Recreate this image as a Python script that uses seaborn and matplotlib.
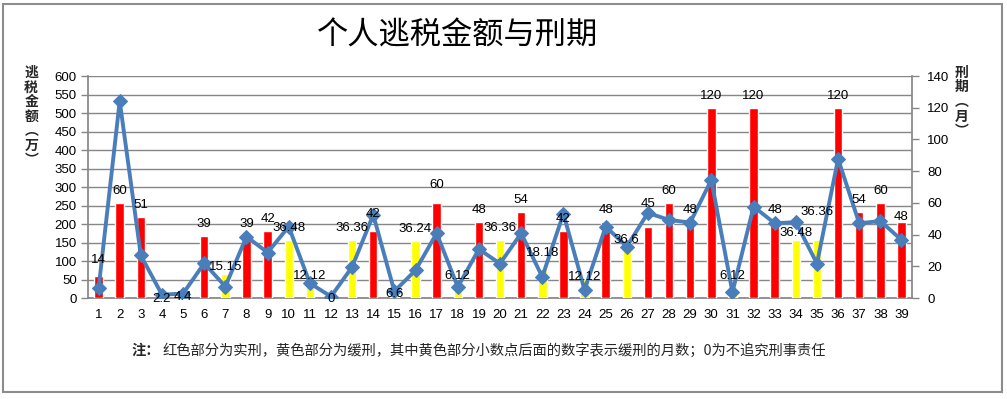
import numpy as np
import pandas as pd
import matplotlib
matplotlib.use('Agg')
import matplotlib.pyplot as plt
from matplotlib.patches import Rectangle
import seaborn as sns

# case number, sentence in months (bar labels), type of sentence, evaded tax (10k yuan)
cases = [str(i) for i in range(1, 40)]
months = [14, 60, 51, 2.2, 4.4, 39, 15.15, 39, 42, 36.48, 12.12, 0, 36.36, 42, 6.6,
          36.24, 60, 6.12, 48, 36.36, 54, 18.18, 42, 12.12, 48, 36.6, 45, 60, 48, 120,
          6.12, 120, 48, 36.48, 36.36, 120, 54, 60, 48]
kinds = ['实刑', '实刑', '实刑', '缓刑', '缓刑', '实刑', '缓刑', '实刑', '实刑', '缓刑',
         '缓刑', '不追究', '缓刑', '实刑', '缓刑', '缓刑', '实刑', '缓刑', '实刑', '缓刑',
         '实刑', '缓刑', '实刑', '缓刑', '实刑', '缓刑', '实刑', '实刑', '实刑', '实刑',
         '缓刑', '实刑', '实刑', '缓刑', '缓刑', '实刑', '实刑', '实刑', '实刑']
amount = [26, 532, 115, 9, 12, 94, 31, 166, 123, 193, 40, 4, 84, 225, 18, 75, 175, 30,
          132, 93, 175, 57, 228, 22, 193, 139, 230, 211, 204, 319, 16, 247, 202, 205, 93,
          376, 202, 208, 157]

left_ticks = list(range(0, 601, 50))
right_ticks = list(range(0, 141, 20))

df = pd.DataFrame({'case': cases, 'months': months, 'kind': kinds, 'amount': amount})
df['pos'] = np.arange(len(df))

sns.set_theme(style='white')
plt.rcParams['font.family'] = ['Liberation Sans', 'Noto Sans CJK SC', 'DejaVu Sans']
cjk = ['Noto Sans CJK SC', 'DejaVu Sans']
grey = '#868686'

fig = plt.figure(figsize=(10.07, 3.99), dpi=100)
ax = fig.add_axes([0.0874, 0.2531, 0.8183, 0.5564])
axb = ax.twinx()
axl = ax.twinx()

# base axes: left scale + gridlines
ax.set_ylim(0, 600)
ax.set_yticks(left_ticks)
ax.yaxis.grid(True, color=grey, linewidth=1)
ax.set_axisbelow(True)

# bars on the right scale
sns.barplot(data=df, x='case', y='months', hue='kind', dodge=False, width=0.4,
            palette={'实刑': '#FF0000', '缓刑': '#FFFF00', '不追究': '#FF0000'},
            saturation=1, legend=False, ax=axb, zorder=2)
axb.set_ylim(0, 140)
axb.set_yticks(right_ticks)
axb.set_ylabel('')

# line on the left scale
sns.lineplot(data=df, x='pos', y='amount', ax=axl, color='#4A7EBB', linewidth=2.8,
             marker='D', markersize=7, markeredgecolor='#4A7EBB', sort=False)
axl.set_ylim(0, 600)
axl.yaxis.set_visible(False)
for s in axl.spines.values():
    s.set_visible(False)

# data labels sit ~12px above the bar top, a few were moved by hand in the original;
# drawn on the top axes so they stay above the line
label_nudge = {'1': 4, '4': -16, '5': -18, '7': -5, '11': -9, '12': -13, '14': 5,
               '15': -18, '17': 6, '22': 4, '24': -10, '26': -12, '27': 11,
               '34': -5, '35': 16, '39': -7}
for c, x, v in zip(df['case'], df['pos'], df['months']):
    dy = (12 + label_nudge.get(c, 0)) * 0.72
    axl.annotate(f'{v:g}', (x, v), xycoords=axb.transData, xytext=(0, dy),
                 textcoords='offset points', ha='center', va='center',
                 fontsize=9.5, color='black', zorder=5)

# x axis, Excel style ticks between categories
ax.set_xlim(-0.5, len(df) - 0.5)
ax.set_xticks(df['pos'])
ax.set_xticklabels(cases)
ax.set_xticks(np.arange(-0.5, len(df), 1), minor=True)
ax.tick_params(axis='x', which='major', length=0, pad=8, labelsize=9.5, colors='black')
ax.tick_params(axis='x', which='minor', length=5, width=1, color=grey, direction='out')
ax.tick_params(axis='y', length=5, width=1, color=grey, labelsize=9.5, labelcolor='black',
               left=True, pad=3)
axb.tick_params(axis='y', length=5, width=1, color=grey, labelsize=9.5, labelcolor='black',
                right=True, pad=6)
ax.set_xlabel('')
ax.set_ylabel('')

for s in ['top', 'right']:
    ax.spines[s].set_visible(False)
for s in ['left', 'bottom']:
    ax.spines[s].set_color(grey)
for s in ['top', 'left', 'bottom']:
    axb.spines[s].set_visible(False)
axb.spines['right'].set_color(grey)

# texts
fig.text(0.454, 0.912, '个人逃税金额与刑期', ha='center', va='center', fontsize=22.5,
         family=cjk, color='black')
fig.text(0.031, 0.835, '\n'.join('逃税金额︵万︶'), ha='center', va='top', fontsize=10,
         fontweight='bold', family=cjk, linespacing=1.05)
fig.text(0.955, 0.835, '\n'.join('刑期︵月︶'), ha='center', va='top', fontsize=10,
         fontweight='bold', family=cjk, linespacing=1.05)
fig.text(0.131, 0.122, '注：', ha='left', va='center', fontsize=10.3, fontweight='bold',
         family=cjk)
fig.text(0.161, 0.122, '红色部分为实刑，黄色部分为缓刑，其中黄色部分小数点后面的数字表示缓刑的月数；0为不追究刑事责任',
         ha='left', va='center', fontsize=10.3, family=cjk)

fig.patches.append(Rectangle((3 / 1007, 7 / 399), 999 / 1007, 388 / 399,
                             transform=fig.transFigure, fill=False,
                             edgecolor='#8C8C8C', linewidth=1.5))

fig.savefig('out.png', dpi=100)
